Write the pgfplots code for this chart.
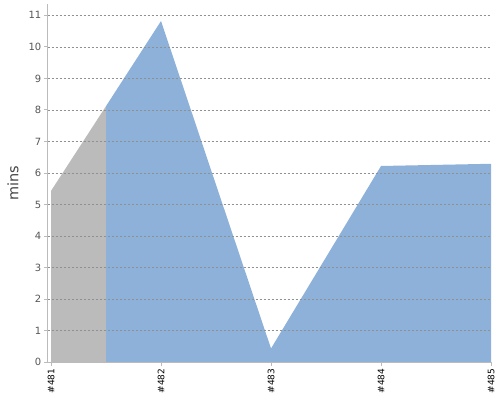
\documentclass[border=0pt]{standalone}
\usepackage{fontspec}
\setmainfont{DejaVu Sans}
\usepackage{pgfplots}
\pgfplotsset{compat=1.18}
\definecolor{bluefill}{HTML}{8EB1DA}
\definecolor{grayfill}{HTML}{BBBBBB}
\definecolor{axisgray}{HTML}{BBBBBB}
\definecolor{gridgray}{HTML}{909090}
\definecolor{ticktext}{HTML}{555555}
\definecolor{labeltext}{HTML}{444444}
\begin{document}
\begin{tikzpicture}[x=1bp,y=1bp]
\useasboundingbox (0,0) rectangle (500,-400);
\begin{axis}[
  at={(47.5bp,-362bp)}, anchor=south west,
  scale only axis, width=443.5bp, height=358bp,
  xmin=-0.032, xmax=4, ymin=0, ymax=11.36,
  axis x line*=bottom, axis y line*=left,
  axis line style={draw=axisgray, line width=0.8bp},
  axis on top,
  xtick={0,1,2,3,4},
  xticklabels={\#481,\#482,\#483,\#484,\#485},
  ytick={0,1,...,11},
  tick align=outside,
  major tick length=3.5bp,
  tick style={draw=axisgray, line width=0.8bp},
  x tick label style={rotate=90, anchor=east, font=\fontsize{9}{10}\selectfont, text=black, inner sep=3bp},
  y tick label style={font=\fontsize{10}{11}\selectfont, text=ticktext, inner sep=2.5bp},
  /pgf/number format/assume math mode=true,
  ymajorgrids,
  major grid style={draw=gridgray, line width=0.55bp, dash pattern=on 2bp off 2bp},
  ylabel={mins},
  ylabel style={font=\fontsize{14.5}{15}\selectfont, text=labeltext, at={(axis description cs:-0.078,0.5)}, anchor=center},
  clip=false,
]
\addplot[draw=none, fill=grayfill] coordinates {(0,0) (0,5.43) (0.5,8.12) (0.5,0)} \closedcycle;
\addplot[draw=none, fill=bluefill] coordinates {(0.5,0) (0.5,8.12) (1,10.82) (2,0.43) (3,6.22) (4,6.29) (4,0)} \closedcycle;
\end{axis}
\end{tikzpicture}
\end{document}
